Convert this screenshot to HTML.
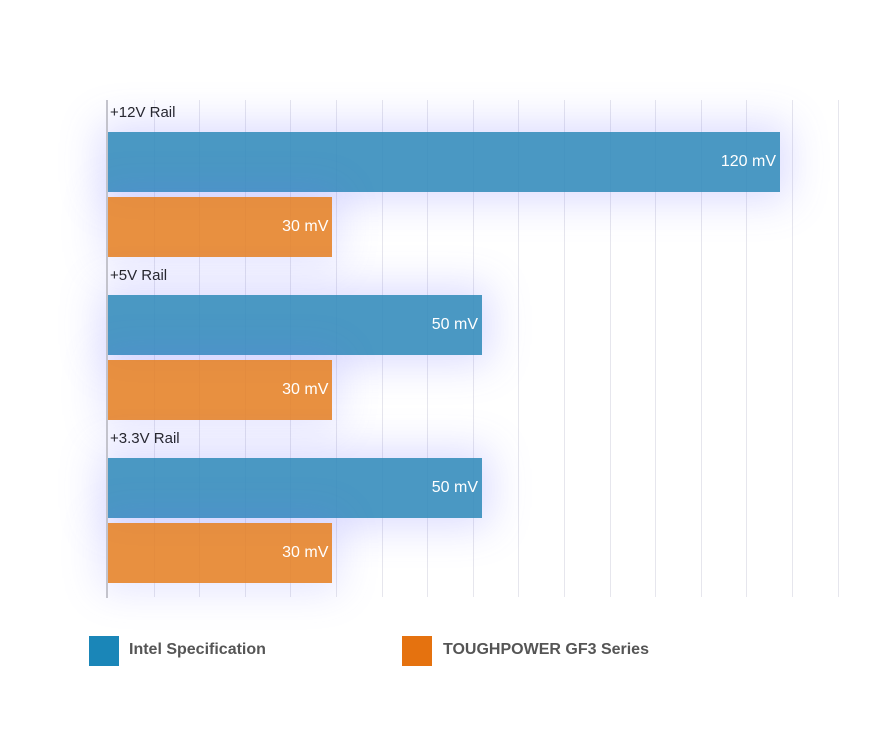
<!DOCTYPE html>
<html><head><meta charset="utf-8"><style>
body{margin:0;width:890px;height:741px;background:#fff;font-family:"Liberation Sans",sans-serif;position:relative;overflow:hidden}
.grid{position:absolute;top:100px;height:497px;width:1px;background:rgba(200,200,215,0.45)}
.bar{position:absolute;height:60px;color:#fff;font-size:16px;line-height:60px;text-align:right;box-sizing:border-box;padding-right:4px}
.blue{background:rgba(42,134,185,0.85);box-shadow:0 0 40px 8px rgba(110,110,255,0.25)}
.orange{background:rgba(228,125,30,0.85);box-shadow:0 0 40px 8px rgba(110,110,255,0.18)}
.cat{position:absolute;left:110px;font-size:15px;color:#222}
.leg{position:absolute;top:636px;width:30px;height:30px}
.legt{position:absolute;top:641px;font-size:16px;font-weight:bold;color:#555}
</style></head><body>
<div id="chart"></div>
<div style="position:absolute;left:106px;top:100px;width:2px;height:498px;background:#c3c3cc"></div>
<div class="leg" style="left:89px;background:#1a86b8"></div>
<div class="legt" style="left:129px">Intel Specification</div>
<div class="leg" style="left:402px;background:#e5720f"></div>
<div class="legt" style="left:443px">TOUGHPOWER GF3 Series</div>
<script>
const categories = ["+12V Rail", "+5V Rail", "+3.3V Rail"];
const intelValues = [120, 50, 50];
const gf3Values = [30, 30, 30];
const unit = " mV";
const domainPts = [0, 50, 120];
const rangePts = [0, 374, 672];
function x(v){
  for(let i=1;i<domainPts.length;i++){
    if(v<=domainPts[i]||i===domainPts.length-1){
      const t=(v-domainPts[i-1])/(domainPts[i]-domainPts[i-1]);
      return rangePts[i-1]+t*(rangePts[i]-rangePts[i-1]);
    }
  }
}
const chart=document.getElementById('chart');
for(let i=0;i<16;i++){
  const g=document.createElement('div');
  
  
  g.className='grid';g.style.left=(108+45.6*(i+1))+'px';
  chart.appendChild(g);
}
categories.forEach((c,i)=>{
  const top=100+i*163;
  const l=document.createElement('div');
  
  
  l.className='cat';l.style.top=(top+4)+'px';l.textContent=c;chart.appendChild(l);
  const b=document.createElement('div');
  
  
  b.className='bar blue';b.style.left='108px';b.style.top=(top+32)+'px';
  b.style.width=x(intelValues[i])+'px';b.textContent=intelValues[i]+unit;chart.appendChild(b);
  const o=document.createElement('div');
  
  
  o.className='bar orange';o.style.left='108px';o.style.top=(top+97)+'px';
  o.style.width=x(gf3Values[i])+'px';o.textContent=gf3Values[i]+unit;chart.appendChild(o);
});
</script>
</body></html>
